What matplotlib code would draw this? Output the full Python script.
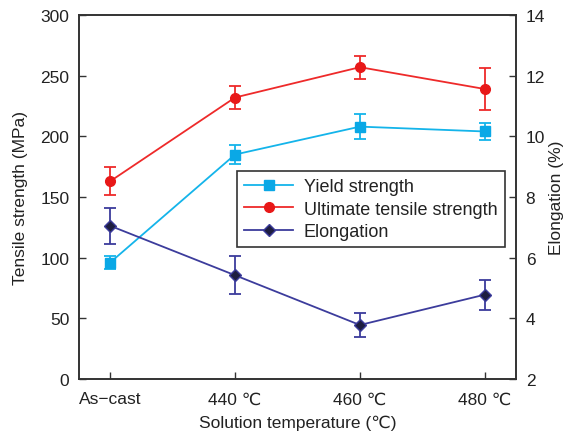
import matplotlib
matplotlib.use("Agg")
import matplotlib.pyplot as plt
from matplotlib.lines import Line2D

plt.rcParams['font.family'] = ['Liberation Sans', 'DejaVu Sans']
plt.rcParams['font.size'] = 12

categories = ['As\u2212cast', '440 \u2103', '460 \u2103', '480 \u2103']
yield_strength = [96, 185, 208, 204]
yield_err = [5.5, 8, 10, 7]
uts = [163, 232, 257, 239]
uts_err = [11.5, 9.5, 9.5, 17]
elongation = [7.05, 5.42, 3.78, 4.78]
elong_err = [0.6, 0.63, 0.4, 0.5]

fig = plt.figure(figsize=(5.66, 4.39), dpi=100)
ax = fig.add_axes([79/566, 1-380/439, (516-79)/566, (380-16)/439])
ax2 = ax.twinx()

x = list(range(len(categories)))
cyan = '#14b4ea'
red = '#ee2a2a'
navy_line = '#3c3c9c'
navy_fill = '#1e1e40'

styles = [
    dict(color=cyan, marker='s', ms=7, mfc='#0aa8e6', mec='#0aa8e6', lw=1.3),
    dict(color=red, marker='o', ms=7, mfc='#e81818', mec='#e81818', lw=1.3),
    dict(color=navy_line, marker='D', ms=6.5, mfc=navy_fill, mec=navy_line, lw=1.3),
]
eb = dict(capsize=4, elinewidth=1.3, capthick=1.3)

ax.errorbar(x, yield_strength, yerr=yield_err, **styles[0], **eb)
ax.errorbar(x, uts, yerr=uts_err, **styles[1], **eb)
ax2.errorbar(x, elongation, yerr=elong_err, **styles[2], **eb)

ax.set_xlim(-0.25, 3.25)
ax.set_ylim(0, 300)
ax2.set_ylim(2, 14)
ax.set_xticks(x)
ax.set_xticklabels(categories)
ax.set_yticks([0, 50, 100, 150, 200, 250, 300])
ax2.set_yticks([2, 4, 6, 8, 10, 12, 14])

for a in (ax, ax2):
    a.tick_params(direction='in', length=5, width=1, colors='#333333', labelcolor='#222222', labelsize=12.5)
    for s in a.spines.values():
        s.set_color('#333333')
        s.set_linewidth(1.2)
ax.tick_params(axis='x', pad=9)
ax.tick_params(axis='y', pad=7)
ax2.tick_params(axis='y', pad=7)

ax.set_xlabel('Solution temperature (\u2103)', fontsize=12.5, color='#222222', labelpad=6)
ax.set_ylabel('Tensile strength (MPa)', fontsize=12.5, color='#222222', labelpad=9)
ax2.set_ylabel('Elongation (%)', fontsize=12.5, color='#222222', labelpad=3)

handles = [Line2D([], [], **s) for s in styles]
leg = ax.legend(handles, ['Yield strength', 'Ultimate tensile strength', 'Elongation'],
                loc='upper left', bbox_to_anchor=((237 - 79) / (516 - 79), (380 - 172) / 364),
                fontsize=13, fancybox=False, framealpha=1, edgecolor='#333333',
                borderpad=0.4, labelspacing=0.3, handlelength=2.7, handletextpad=0.6,
                borderaxespad=0)
leg.get_frame().set_linewidth(1.2)
for t in leg.get_texts():
    t.set_color('#222222')

fig.savefig('out.png', dpi=100)
